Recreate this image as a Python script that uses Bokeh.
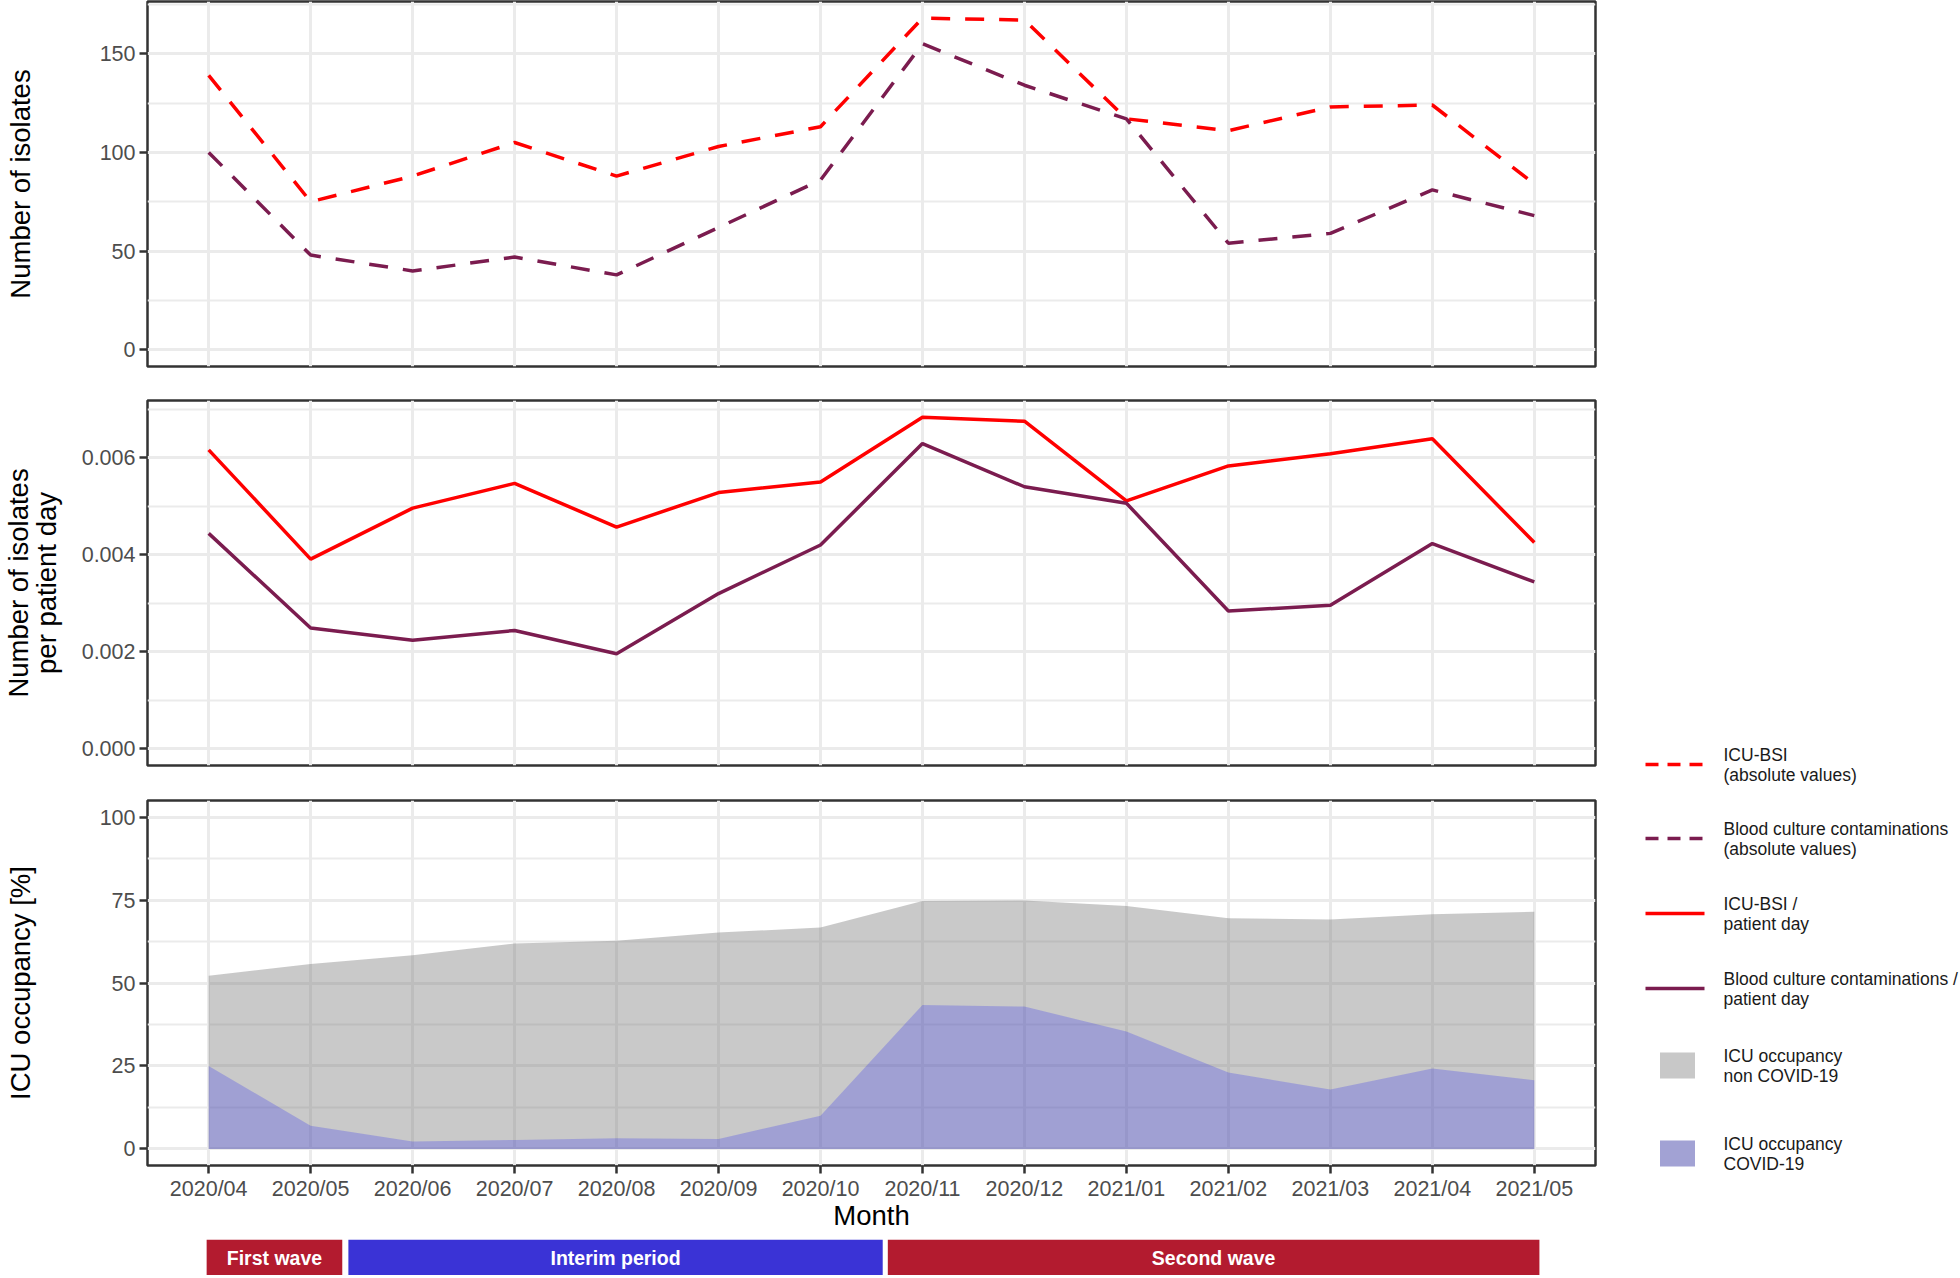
from bokeh.plotting import figure
from bokeh.layouts import column, row
from bokeh.models import Range1d, FixedTicker, NumeralTickFormatter
from bokeh.core.properties import value
from bokeh.embed import file_html
from bokeh.resources import INLINE

# ---------------- data ----------------
months = ["2020/04", "2020/05", "2020/06", "2020/07", "2020/08", "2020/09", "2020/10",
          "2020/11", "2020/12", "2021/01", "2021/02", "2021/03", "2021/04", "2021/05"]

icu_bsi_abs = [139, 75, 88, 105, 88, 103, 113, 168, 167, 117, 111, 123, 124, 84]
bcc_abs = [100, 48, 40, 47, 38, 62, 86, 155, 134, 117, 54, 59, 81, 68]

icu_bsi_pd = [0.00616, 0.00391, 0.00496, 0.00547, 0.00457, 0.00528, 0.00550,
              0.00683, 0.00675, 0.00511, 0.00583, 0.00608, 0.00639, 0.00425]
bcc_pd = [0.00444, 0.00249, 0.00224, 0.00244, 0.00196, 0.00320, 0.00420,
          0.00629, 0.00540, 0.00506, 0.00284, 0.00296, 0.00423, 0.00344]

icu_occ_total = [52.2, 55.7, 58.4, 61.9, 62.7, 65.2, 66.7, 74.7, 74.9, 73.2, 69.5, 69.1, 70.7, 71.5]
icu_occ_covid = [25.0, 7.0, 2.2, 2.7, 3.2, 3.0, 10.0, 43.4, 42.9, 35.4, 23.0, 17.9, 24.2, 20.7]

period_labels = ["First wave", "Interim period", "Second wave"]
period_start = [0.98, 2.37, 7.66]
period_end = [2.31, 7.61, 14.05]

legend_labels = ["ICU-BSI\n(absolute values)",
                 "Blood culture contaminations\n(absolute values)",
                 "ICU-BSI /\npatient day",
                 "Blood culture contaminations /\npatient day",
                 "ICU occupancy\nnon COVID-19",
                 "ICU occupancy\nCOVID-19"]

# ---------------- styles ----------------
FONT = "Liberation Sans"
RED = "#ff0000"
PURPLE = "#7b1c4f"
GRID = "#ebebeb"
BORDER = "#333333"
period_colors = ["#b31b2f", "#3a33d6", "#b31b2f"]

x = list(range(1, len(months) + 1))
x_range = Range1d(0.4, len(months) + 0.6)
x_ticker = FixedTicker(ticks=x)

FRAME_W = 1448
FRAME_H = 365
LEFT = 146
RIGHT = 10


def panel(y_range, major, minor, ylabel, label_standoff, top, bottom, show_x=False):
    p = figure(frame_width=FRAME_W, frame_height=FRAME_H, x_range=x_range, y_range=y_range,
               output_backend="svg", toolbar_location=None,
               min_border_left=LEFT, min_border_right=RIGHT,
               min_border_top=top, min_border_bottom=bottom,
               background_fill_color="white", border_fill_color="white")
    p.outline_line_color = BORDER
    p.outline_line_width = 2.5
    p.outline_line_alpha = 1.0
    yt = FixedTicker(ticks=major, minor_ticks=minor)
    p.yaxis.ticker = yt
    p.ygrid.ticker = yt
    p.xaxis.ticker = x_ticker
    p.xgrid.ticker = x_ticker
    for g in (p.xgrid, p.ygrid):
        g.grid_line_color = GRID
        g.grid_line_width = 3
    p.ygrid.minor_grid_line_color = GRID
    p.ygrid.minor_grid_line_width = 1.8
    axes = [p.yaxis[0]] + ([p.xaxis[0]] if show_x else [])
    for ax in axes:
        ax.axis_line_color = None
        ax.major_tick_line_color = BORDER
        ax.major_tick_line_width = 2.5
        ax.major_tick_out = 8
        ax.major_tick_in = 0
        ax.minor_tick_line_color = None
        ax.major_label_text_font = FONT
        ax.major_label_text_font_size = "21.5px"
        ax.major_label_text_color = "#4d4d4d"
        ax.major_label_standoff = 4
        ax.axis_label_text_font = FONT
        ax.axis_label_text_font_size = "27.5px"
        ax.axis_label_text_font_style = "normal"
        ax.axis_label_text_color = "#000000"
    p.yaxis.axis_label = ylabel
    p.yaxis.axis_label_standoff = label_standoff
    if not show_x:
        p.xaxis.visible = False
    return p


# Panel 1: absolute numbers
p1 = panel(Range1d(-8.4, 176.4), [0, 50, 100, 150], [25, 75, 125, 175],
           "Number of isolates", 61, 1, 17)
p1.line(x, icu_bsi_abs, line_color=RED, line_width=3.5, line_dash="19 15")
p1.line(x, bcc_abs, line_color=PURPLE, line_width=3.5, line_dash="19 15")

# Panel 2: per patient day
p2 = panel(Range1d(-0.000342, 0.007177), [0, 0.002, 0.004, 0.006],
           [0.001, 0.003, 0.005, 0.007],
           "Number of isolates\nper patient day", 17, 17, 17)
p2.yaxis.axis_label_text_line_height = 0.88
p2.yaxis.formatter = NumeralTickFormatter(format="0.000")
p2.line(x, icu_bsi_pd, line_color=RED, line_width=3.5)
p2.line(x, bcc_pd, line_color=PURPLE, line_width=3.5)

# Panel 3: ICU occupancy
p3 = panel(Range1d(-5, 105), [0, 25, 50, 75, 100], [12.5, 37.5, 62.5, 87.5],
           "ICU occupancy [%]", 61, 18, 74, show_x=True)
p3.varea(x=x, y1=0, y2=icu_occ_total, fill_color="#7f7f7f", fill_alpha=0.42)
p3.varea(x=x, y1=0, y2=icu_occ_covid, fill_color="#0000ff", fill_alpha=0.2)
p3.xaxis.major_label_overrides = {i: m for i, m in zip(x, months)}
p3.xaxis.axis_label = "Month"
p3.xaxis.major_label_standoff = 3
p3.xaxis.axis_label_standoff = -4

# Period bars
pb = figure(frame_width=FRAME_W, frame_height=36, x_range=x_range, y_range=Range1d(0, 1),
            output_backend="svg", toolbar_location=None,
            min_border_left=LEFT, min_border_right=RIGHT, min_border_top=0, min_border_bottom=0,
            background_fill_color="white", border_fill_color="white")
pb.outline_line_color = None
pb.axis.visible = False
pb.grid.visible = False
pb.quad(left=period_start, right=period_end, bottom=0, top=1,
        fill_color=period_colors, line_color=None)
pb.text(x=[(a + b) / 2 for a, b in zip(period_start, period_end)], y=[0.5] * 3,
        text=period_labels, text_font=value(FONT), text_font_size="19.5px",
        text_font_style="bold", text_color="white", text_align="center",
        text_baseline="middle")

# Legend (drawn in its own pixel-scaled figure)
LG_W, LG_H = 354, 1276
lg = figure(width=LG_W, height=LG_H, x_range=Range1d(0, LG_W), y_range=Range1d(LG_H, 0),
            output_backend="svg", toolbar_location=None, min_border=0,
            background_fill_color="white", border_fill_color="white")
lg.outline_line_color = None
lg.axis.visible = False
lg.grid.visible = False
leg_y = [764, 838, 913, 988, 1065, 1153]
line_styles = [(RED, "13 9"), (PURPLE, "13 9"), (RED, "solid"), (PURPLE, "solid")]
for (col, dash), yc in zip(line_styles, leg_y[:4]):
    lg.segment(x0=[40], y0=[yc], x1=[99], y1=[yc], line_color=col, line_width=3.5, line_dash=dash)
lg.rect(x=[72, 72], y=leg_y[4:], width=35, height=26,
        fill_color=["#c8c8c8", "#a2a2d4"], line_color=None)
lg.text(x=[118] * 6, y=leg_y, text=legend_labels, text_font=value(FONT),
        text_font_size="17.5px", text_color="#1a1a1a", text_baseline="middle",
        text_align="left", text_line_height=1.0)

layout = row(column(p1, p2, p3, pb), lg)
open("out.html", "w").write(file_html(layout, INLINE))
